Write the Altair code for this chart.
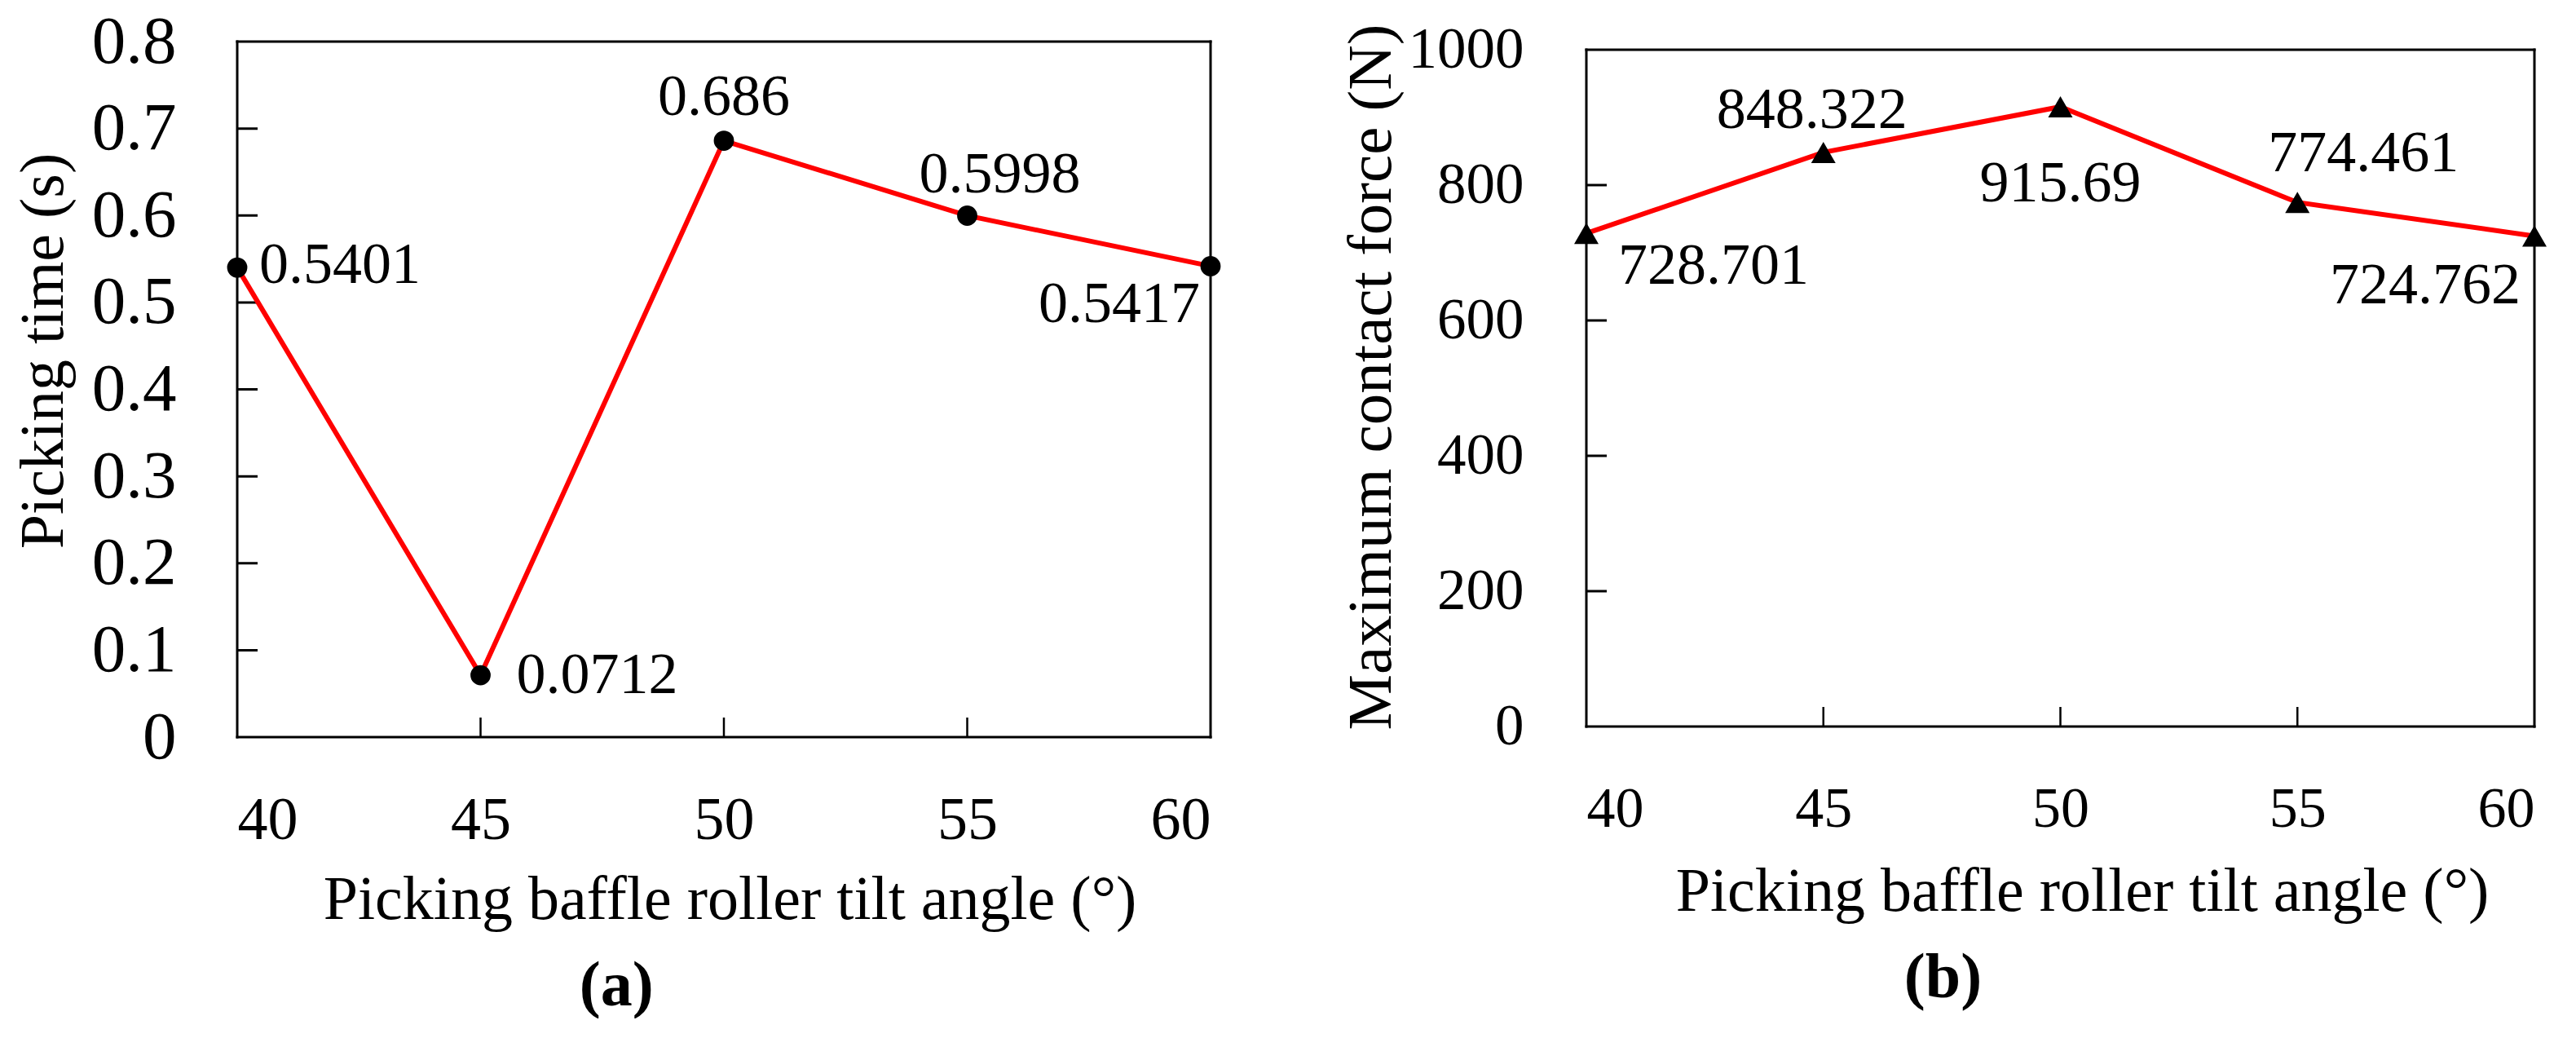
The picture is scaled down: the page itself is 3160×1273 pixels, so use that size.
import altair as alt
import pandas as pd

# ---------------- data ----------------
angles = [40, 45, 50, 55, 60]
picking_time = [0.5401, 0.0712, 0.686, 0.5998, 0.5417]
time_labels = ["0.5401", "0.0712", "0.686", "0.5998", "0.5417"]
contact_force = [728.701, 848.322, 915.69, 774.461, 724.762]
force_labels = ["728.701", "848.322", "915.69", "774.461", "724.762"]

x_ticks = [40, 45, 50, 55, 60]
x_inner_ticks = [45, 50, 55]
time_ticks = [0, 0.1, 0.2, 0.3, 0.4, 0.5, 0.6, 0.7, 0.8]
time_inner_ticks = [0.1, 0.2, 0.3, 0.4, 0.5, 0.6, 0.7]
force_ticks = [0, 200, 400, 600, 800, 1000]
force_inner_ticks = [200, 400, 600, 800]

x_title = "Picking baffle roller tilt angle (°)"
time_title = "Picking time (s)"
force_title = "Maximum contact force (N)"

FONT = "Liberation Serif"
RED = "#ff0000"
BLACK = "#000000"


def make_panel(values, labels, ticks, inner_ticks, y_title, y_dom_max, shape,
               marker_size, label_style, w, h, xaxis_kw, yaxis_kw, caption):
    df = pd.DataFrame({"angle": angles, "val": values, "lbl": labels})
    top = ticks[-1]
    xs = alt.Scale(domain=[x_ticks[0], x_ticks[-1]], nice=False, zero=False)
    ys = alt.Scale(domain=[0, y_dom_max], nice=False, zero=False)

    x_axis = alt.Axis(values=x_ticks, format="d", domain=False, ticks=False, grid=False,
                      labelFont=FONT, labelColor=BLACK, labelOverlap=False,
                      title=x_title, titleFont=FONT, titleFontWeight="normal",
                      titleColor=BLACK, titleBaseline="top", **xaxis_kw)
    y_axis = alt.Axis(values=ticks, domain=False, ticks=False, grid=False,
                      labelFont=FONT, labelColor=BLACK, labelOverlap=False,
                      title=y_title, titleFont=FONT, titleFontWeight="normal",
                      titleColor=BLACK, titleAngle=270, titleBaseline="bottom",
                      titleAlign="center", **yaxis_kw)

    def X(f):
        return alt.X(f, scale=xs, axis=x_axis)

    def Y(f):
        return alt.Y(f, scale=ys, axis=y_axis)

    frame_df = pd.DataFrame({
        "x1": [x_ticks[0], x_ticks[0], x_ticks[0], x_ticks[-1]],
        "x2": [x_ticks[-1], x_ticks[-1], x_ticks[0], x_ticks[-1]],
        "y1": [0, top, 0, 0],
        "y2": [0, top, top, top],
    })
    frame = alt.Chart(frame_df).mark_rule(color=BLACK, strokeWidth=3, strokeCap="square").encode(
        x=X("x1:Q"), x2="x2:Q", y=Y("y1:Q"), y2="y2:Q")

    ytick_df = pd.DataFrame({"angle": [x_ticks[0]] * len(inner_ticks), "val": inner_ticks})
    ytick = alt.Chart(ytick_df).mark_tick(
        orient="horizontal", size=50, thickness=3, color=BLACK, clip=True, opacity=1).encode(
        x=X("angle:Q"), y=Y("val:Q"))
    xtick_df = pd.DataFrame({"angle": x_inner_ticks, "val": [0] * len(x_inner_ticks)})
    xtick = alt.Chart(xtick_df).mark_tick(
        orient="vertical", size=48, thickness=2.5, color=BLACK, clip=True, opacity=1).encode(
        x=X("angle:Q"), y=Y("val:Q"))

    base = alt.Chart(df)
    line = base.mark_line(color=RED, strokeWidth=6).encode(x=X("angle:Q"), y=Y("val:Q"))
    pts = base.mark_point(shape=shape, filled=True, size=marker_size, color=BLACK, opacity=1).encode(
        x=X("angle:Q"), y=Y("val:Q"))

    texts = []
    for a, (align, dx, dy) in zip(angles, label_style):
        texts.append(base.transform_filter(alt.datum.angle == a).mark_text(
            align=align, baseline="alphabetic", dx=dx, dy=dy, font=FONT, fontSize=72,
            color=BLACK).encode(x=X("angle:Q"), y=Y("val:Q"), text="lbl:N"))

    return alt.layer(frame, ytick, xtick, line, pts, *texts).properties(
        width=w, height=h,
        title=alt.TitleParams(caption, orient="bottom", anchor="middle", frame="bounds",
                              font=FONT, fontSize=78, fontWeight="bold", color=BLACK,
                              baseline="top", offset=30))


panel_a = make_panel(
    picking_time, time_labels, time_ticks, time_inner_ticks, time_title, 0.8,
    "circle", 616,
    [("left", 27, 19), ("left", 44, 22), ("center", 0, -32), ("center", 40, -28), ("right", -13, 69)],
    1194, 853,
    dict(labelFontSize=74, labelPadding=66, titleFontSize=76, titlePadding=23, titleX=604),
    dict(labelFontSize=83, labelPadding=75, format=".1~f", titleFontSize=76, titleX=-199, titleY=379),
    "(a)")

panel_b = make_panel(
    contact_force, force_labels, force_ticks, force_inner_ticks, force_title, 1000 * 840 / 830,
    "triangle-up", 900,
    [("left", 39, 62), ("center", -14, -30), ("center", 0, 116), ("center", 81, -38), ("right", -17, 83)],
    1163, 840,
    dict(labelFontSize=70, labelPadding=67, titleFontSize=76, titlePadding=29, titleX=608),
    dict(labelFontSize=71, labelPadding=77, format="d", titleFontSize=77, titleX=-225, titleY=411),
    "(b)")

chart = alt.hconcat(panel_a, panel_b, spacing=144).configure(
    padding={"left": 7, "top": 2, "right": 0, "bottom": 0}
).configure_view(stroke=None)

chart.save("out.html", embed_options={"renderer": "svg", "actions": False})
